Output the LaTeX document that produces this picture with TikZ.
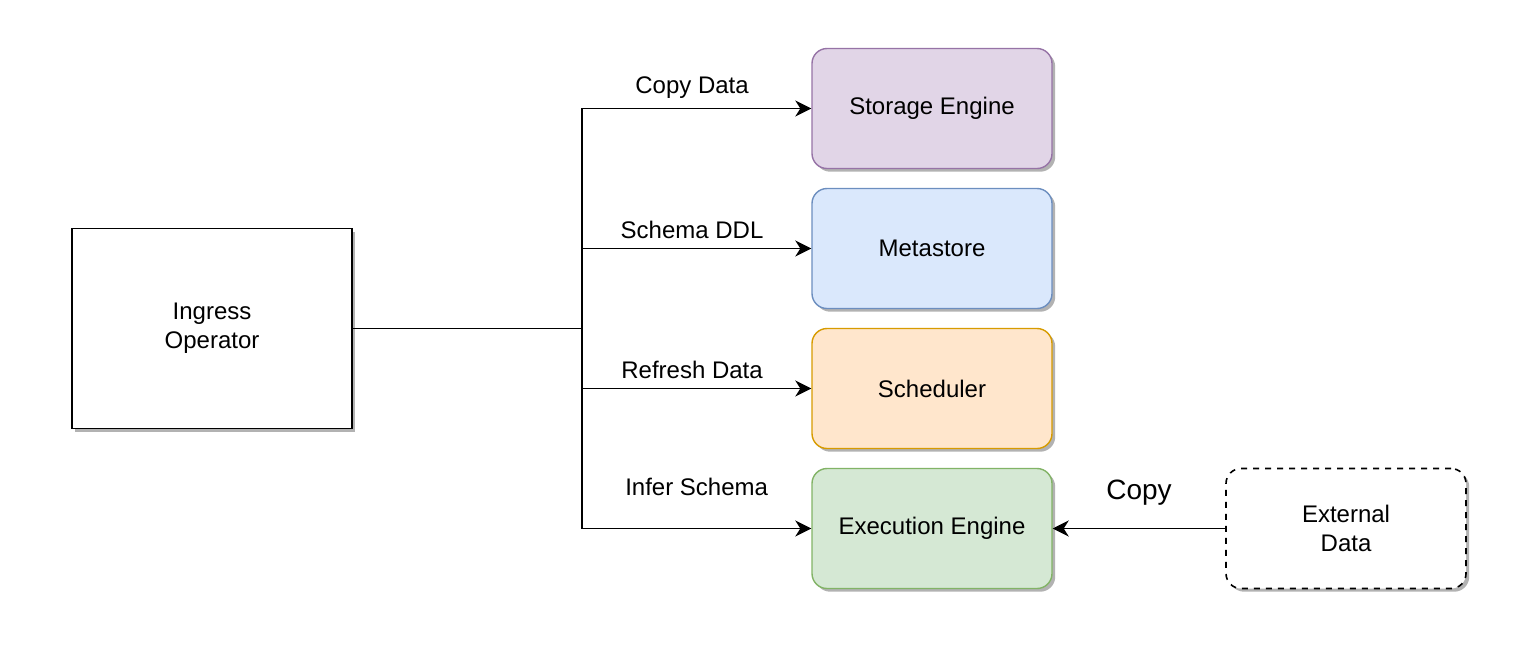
\documentclass[tikz,border=0pt]{standalone}
\usepackage{fontspec}
\setmainfont{Liberation Sans}
\usetikzlibrary{arrows.meta,shadows}

\definecolor{purplefill}{HTML}{E1D5E7}
\definecolor{purpleline}{HTML}{9673A6}
\definecolor{bluefill}{HTML}{DAE8FC}
\definecolor{blueline}{HTML}{6C8EBF}
\definecolor{orangefill}{HTML}{FFE6CC}
\definecolor{orangeline}{HTML}{D79B00}
\definecolor{greenfill}{HTML}{D5E8D4}
\definecolor{greenline}{HTML}{82B366}

\begin{document}
\begin{tikzpicture}[x=0.5pt,y=-0.5pt,
  font=\fontsize{12}{14.5}\selectfont,
  shade/.style={drop shadow={shadow xshift=1.6pt,shadow yshift=-1.6pt,fill=black!30,opacity=1}},
  opbox/.style={draw,line width=0.9pt,fill=white,shade,minimum width=140pt,minimum height=100pt,align=center},
  part/.style={draw=#1line,fill=#1fill,line width=0.7pt,rounded corners=7.5pt,shade,minimum width=120pt,minimum height=60pt,align=center},
  ext/.style={draw,dashed,line width=0.8pt,fill=white,rounded corners=7.5pt,shade,minimum width=120pt,minimum height=60pt,align=center},
  flow/.style={line width=0.9pt,-{Stealth[length=8pt,width=8pt,inset=2.5pt]}}]
  \useasboundingbox (0,0) rectangle (1534,650);

  \node [opbox] (ingress) at (212,328.5) {Ingress\\Operator};
  \node [part=purple] (storage) at (932,108.5) {Storage Engine};
  \node [part=blue]   (meta)    at (932,248.5) {Metastore};
  \node [part=orange] (sched)   at (932,388.5) {Scheduler};
  \node [part=green]  (exec)    at (932,528.5) {Execution Engine};
  \node [ext] (external) at (1346,528.5) {External\\Data};

  \coordinate (split) at (582,328.5);
  \draw [line width=0.9pt] (ingress.east) -- (split);
  \draw [flow] (split) |- node [pos=0.74,above=1pt] {Copy Data} (storage.west);
  \draw [flow] (split) |- node [pos=0.74,above=1pt] {Schema DDL} (meta.west);
  \draw [flow] (split) |- node [pos=0.74,above=1pt] {Refresh Data} (sched.west);
  \draw [flow] (split) |- node [pos=0.75,above=12.5pt] {Infer Schema} (exec.west);
  \draw [flow] (external.west) -- node [above=8pt,font=\fontsize{14}{16}\selectfont] {Copy} (exec.east);
\end{tikzpicture}
\end{document}
